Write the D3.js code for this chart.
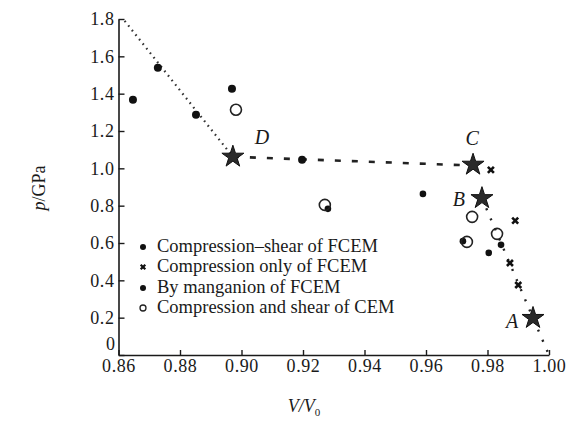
<!DOCTYPE html>
<html><head><meta charset="utf-8">
<script src="https://cdn.jsdelivr.net/npm/d3@7"></script>
<style>body{margin:0;background:#fff}svg{display:block}</style>
</head><body>
<script>
// ---- data ----
const xTicks = [0.86, 0.88, 0.90, 0.92, 0.94, 0.96, 0.98, 1.00];
const yTicks = [0, 0.2, 0.4, 0.6, 0.8, 1.0, 1.2, 1.4, 1.6, 1.8];
const legendLabels = ["Compression\u2013shear of FCEM", "Compression only of FCEM", "By manganion of FCEM", "Compression and shear of CEM"];
const compShearV = [0.959, 0.9281, 0.972, 0.9804, 0.9844];
const compShearP = [0.863, 0.783, 0.61, 0.547, 0.59];
const compOnlyV = [0.9811, 0.989, 0.9873, 0.990];
const compOnlyP = [0.992, 0.72, 0.493, 0.375];
const manganV = [0.8647, 0.8728, 0.8852, 0.8969, 0.9197];
const manganP = [1.367, 1.539, 1.287, 1.426, 1.046];
const cemV = [0.8982, 0.9271, 0.975, 0.9733, 0.9831];
const cemP = [1.314, 0.804, 0.74, 0.606, 0.649];
const starNames = ["A", "B", "C", "D"];
const starV = [0.9948, 0.9782, 0.9753, 0.8972];
const starP = [0.198, 0.84, 1.019, 1.062];
const line1V = [0.862, 0.8972];
const line1P = [1.79, 1.062];
const line2V = [0.8972, 0.9753];
const line2P = [1.062, 1.015];
const line3V = [0.9782, 0.9948, 1.0];
const line3P = [0.84, 0.198, 0.0];

const W = 573, H = 434;
const svg = d3.select("body").append("svg").attr("width", W).attr("height", H);
const x = d3.scaleLinear().domain([0.86, 1.0]).range([118.5, 549]);
const y = d3.scaleLinear().domain([0, 1.8]).range([355, 19]);
const ink = "#1a1a1a";
const serif = "'Liberation Serif', 'DejaVu Serif', 'Times New Roman', Times, serif";

// axes
const gx = svg.append("g").attr("transform", `translate(0,${y(0)})`)
  .call(d3.axisBottom(x).tickValues(xTicks).tickFormat(d3.format(".2f")).tickSizeInner(-5).tickSizeOuter(0).tickPadding(3));
const gy = svg.append("g").attr("transform", `translate(${x(0.86)},0)`)
  .call(d3.axisLeft(y).tickValues(yTicks).tickFormat(d => d === 0 ? "0" : d3.format(".1f")(d)).tickSizeInner(-6).tickSizeOuter(0).tickPadding(7));
[gx, gy].forEach(g => {
  g.select(".domain").attr("stroke", ink).attr("stroke-width", 1.6);
  g.selectAll(".tick line").attr("stroke", ink).attr("stroke-width", 1.4);
  g.selectAll(".tick text").attr("fill", ink).style("font-family", serif).style("font-size", "18px").style("letter-spacing", "0.6px");
});
gx.selectAll(".tick text").attr("dy", "0.8em");
gy.selectAll(".tick text").attr("dx", "3px");
gy.selectAll(".tick text").filter(d => d === 0).attr("dy", "-0.3em").attr("dx", "4px");

// axis titles
const xl = svg.append("text").attr("x", 304).attr("y", 412).attr("text-anchor", "middle")
  .style("font-family", serif).style("font-size", "18px").style("font-style", "italic").attr("fill", ink);
xl.append("tspan").text("V/V");
xl.append("tspan").text("0").attr("dy", 4).style("font-size", "11px").style("font-style", "normal");
const yl = svg.append("text").attr("transform", `translate(45,${188}) rotate(-90)`).attr("text-anchor", "middle")
  .style("font-family", serif).style("font-size", "18px").attr("fill", ink);
yl.append("tspan").text("p").style("font-style", "italic");
yl.append("tspan").text("/GPa");

// trend lines
const lineGen = d3.line().x(d => x(d[0])).y(d => y(d[1]));
svg.append("path").datum(d3.zip(line1V, line1P)).attr("d", lineGen)
  .attr("fill", "none").attr("stroke", "#333").attr("stroke-width", 2.2).attr("stroke-dasharray", "1.6 4.2");
svg.append("path").datum(d3.zip(line2V, line2P)).attr("d", lineGen)
  .attr("fill", "none").attr("stroke", "#222").attr("stroke-width", 2.6).attr("stroke-dasharray", "6 11");
svg.append("path").datum(d3.zip(line3V, line3P)).attr("d", lineGen)
  .attr("fill", "none").attr("stroke", "#222").attr("stroke-width", 2.4).attr("stroke-dasharray", "2 9");

// markers
const star = d3.symbol().type(d3.symbolStar).size(150);
const crossPath = (s) => `M${-s},${-s}L${s},${s}M${s},${-s}L${-s},${s}`;

svg.append("g").selectAll("path").data(d3.zip(starV, starP)).join("path")
  .attr("d", star).attr("transform", d => `translate(${x(d[0])},${y(d[1])})`)
  .attr("fill", "#2a2a2a").attr("stroke", "#111").attr("stroke-width", 1);
svg.append("g").selectAll("text").data(d3.zip(starNames, starV, starP)).join("text")
  .attr("x", d => x(d[1]) + ({A: -21, B: -23, C: -1, D: 29})[d[0]])
  .attr("y", d => y(d[2]) + ({A: 10, B: 8, C: -20, D: -13})[d[0]])
  .attr("text-anchor", "middle").text(d => d[0])
  .style("font-family", serif).style("font-size", "20px").style("font-style", "italic").attr("fill", ink);

svg.append("g").selectAll("circle").data(d3.zip(manganV, manganP)).join("circle")
  .attr("cx", d => x(d[0])).attr("cy", d => y(d[1])).attr("r", 4).attr("fill", "#111");
svg.append("g").selectAll("circle").data(d3.zip(compShearV, compShearP)).join("circle")
  .attr("cx", d => x(d[0])).attr("cy", d => y(d[1])).attr("r", 3.3).attr("fill", "#111");
svg.append("g").selectAll("circle").data(d3.zip(cemV, cemP)).join("circle")
  .attr("cx", d => x(d[0])).attr("cy", d => y(d[1])).attr("r", 5.5).attr("fill", "none").attr("stroke", "#222").attr("stroke-width", 1.6);
svg.append("g").selectAll("path").data(d3.zip(compOnlyV, compOnlyP)).join("path")
  .attr("d", crossPath(3)).attr("transform", d => `translate(${x(d[0])},${y(d[1])})`)
  .attr("stroke", "#111").attr("stroke-width", 2.6).attr("fill", "none");

// legend
const lg = svg.append("g");
const legY = [252, 272, 293, 313];
legendLabels.forEach((t, i) => {
  const cx = 143, cy = legY[i] - 5;
  if (i === 0 || i === 2) lg.append("circle").attr("cx", cx).attr("cy", cy).attr("r", 3).attr("fill", "#111");
  if (i === 1) lg.append("path").attr("d", crossPath(2.3)).attr("transform", `translate(${cx},${cy})`).attr("stroke", "#111").attr("stroke-width", 2.2);
  if (i === 3) lg.append("circle").attr("cx", cx).attr("cy", cy).attr("r", 3).attr("fill", "none").attr("stroke", "#222").attr("stroke-width", 1.3);
  lg.append("text").attr("x", 157).attr("y", legY[i]).text(t)
    .style("font-family", serif).style("font-size", "18.5px").attr("fill", ink);
});
</script>
</body></html>
